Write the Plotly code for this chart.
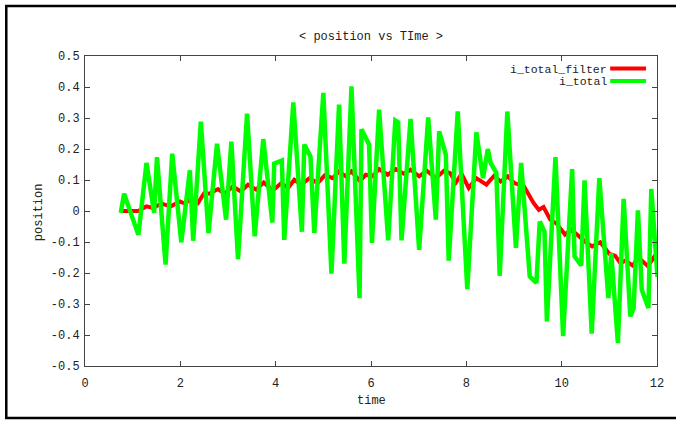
import plotly.graph_objects as go

# ---- data ----
t_raw = [0.75, 0.82, 1.12, 1.29, 1.45, 1.51, 1.69, 1.83, 2.02, 2.20, 2.27, 2.43, 2.59, 2.77, 2.96,
         3.07, 3.21, 3.40, 3.56, 3.74, 3.93, 3.97, 4.13, 4.18, 4.37, 4.55, 4.60, 4.73, 4.81, 5.00,
         5.17, 5.33, 5.44, 5.59, 5.76, 5.80, 5.96, 6.02, 6.17, 6.36, 6.51, 6.57, 6.64, 6.83, 7.01,
         7.20, 7.36, 7.43, 7.57, 7.63, 7.82, 8.02, 8.21, 8.35, 8.45, 8.51, 8.63, 8.70, 8.86, 9.04,
         9.15, 9.33, 9.47, 9.54, 9.64, 9.69, 9.87, 10.03, 10.22, 10.27, 10.41, 10.48, 10.63, 10.79,
         10.98, 11.04, 11.18, 11.30, 11.44, 11.51, 11.60, 11.68, 11.82, 11.88, 12.01]
i_total = [-0.006, 0.056, -0.077, 0.155, -0.006, 0.174, -0.173, 0.185, -0.101, 0.131, -0.096, 0.288,
           -0.071, 0.217, -0.028, 0.224, -0.155, 0.314, -0.082, 0.232, -0.037, 0.153, 0.163, -0.093,
           0.350, -0.067, 0.214, 0.176, -0.071, 0.381, -0.202, 0.343, -0.170, 0.402, -0.281, 0.264,
           0.214, -0.103, 0.327, -0.095, 0.292, 0.286, -0.095, 0.297, -0.125, 0.302, -0.028, 0.257,
           0.182, -0.160, 0.321, -0.252, 0.254, 0.106, 0.200, 0.155, 0.123, -0.209, 0.321, -0.119,
           0.155, -0.211, -0.232, -0.034, -0.066, -0.356, 0.174, -0.404, 0.135, -0.146, -0.176,
           0.099, -0.396, 0.106, -0.281, -0.136, -0.426, 0.039, -0.340, -0.313, 0.002, -0.254,
           -0.313, 0.071, -0.213]

t_filter = [0.75, 1.12, 1.29, 1.43, 1.60, 1.80, 1.99, 2.09, 2.23, 2.37, 2.50, 2.61, 2.79, 2.93, 3.10,
            3.27, 3.42, 3.59, 3.75, 3.94, 4.12, 4.26, 4.39, 4.53, 4.71, 4.88, 5.03, 5.20, 5.33, 5.47,
            5.59, 5.77, 5.89, 6.03, 6.17, 6.35, 6.52, 6.69, 6.83, 7.01, 7.17, 7.36, 7.53, 7.66, 7.78,
            7.90, 8.05, 8.21, 8.42, 8.58, 8.72, 8.87, 9.01, 9.21, 9.41, 9.52, 9.62, 9.76, 9.89, 10.07,
            10.20, 10.36, 10.51, 10.64, 10.81, 11.00, 11.12, 11.23, 11.34, 11.49, 11.61, 11.81, 11.93,
            12.04]
i_total_filter = [0.0, 0.0, 0.015, 0.010, 0.024, 0.015, 0.031, 0.024, 0.039, 0.026, 0.058, 0.056,
                  0.071, 0.056, 0.079, 0.063, 0.085, 0.069, 0.092, 0.066, 0.090, 0.074, 0.101, 0.085,
                  0.106, 0.090, 0.115, 0.106, 0.128, 0.112, 0.128, 0.096, 0.117, 0.112, 0.135, 0.117,
                  0.135, 0.120, 0.133, 0.112, 0.130, 0.106, 0.130, 0.122, 0.092, 0.120, 0.074, 0.106,
                  0.085, 0.113, 0.095, 0.112, 0.090, 0.079, 0.026, 0.004, 0.013, -0.028, -0.040,
                  -0.076, -0.060, -0.082, -0.101, -0.114, -0.101, -0.138, -0.144, -0.168, -0.160,
                  -0.176, -0.150, -0.178, -0.150, -0.125]

x_ticks = [0, 2, 4, 6, 8, 10, 12]
y_ticks = [0.5, 0.4, 0.3, 0.2, 0.1, 0, -0.1, -0.2, -0.3, -0.4, -0.5]
y_tick_text = ["0.5", "0.4", "0.3", "0.2", "0.1", "0", "-0.1", "-0.2", "-0.3", "-0.4", "-0.5"]

FONT = "Liberation Mono"
W, H = 676, 421
L, R, T, B = 85, 17, 56, 55
pw, ph = W - L - R, H - T - B

def px(xp):
    return (xp - L) / pw

def py(yp):
    return (H - B - yp) / ph

fig = go.Figure()
fig.add_trace(go.Scatter(x=t_filter, y=i_total_filter, mode="lines", name="i_total_filter",
                         line=dict(color="#ff0000", width=4), showlegend=False))
fig.add_trace(go.Scatter(x=t_raw, y=i_total, mode="lines", name="i_total",
                         line=dict(color="#00ff00", width=4.5), showlegend=False))

axis_common = dict(showgrid=False, zeroline=False, showline=True, linecolor="#444444", linewidth=1,
                   mirror="ticks", ticks="inside", ticklen=5, tickcolor="#444444", tickwidth=1,
                   tickfont=dict(family=FONT, size=12, color="#222222"))
fig.update_xaxes(range=[0, 12], tickvals=x_ticks, ticktext=[str(v) for v in x_ticks],
                 ticklabelstandoff=6, **axis_common)
fig.update_yaxes(range=[-0.5, 0.5], tickvals=y_ticks, ticktext=y_tick_text,
                 ticklabelstandoff=2, **axis_common)

annotations = [
    dict(text="&lt; position vs TIme &gt;", x=0.5, y=py(37), xref="paper", yref="paper",
         showarrow=False, xanchor="center", yanchor="middle",
         font=dict(family=FONT, size=12, color="#222222")),
    dict(text="time", x=0.5, y=py(401), xref="paper", yref="paper", showarrow=False,
         xanchor="center", yanchor="middle", font=dict(family=FONT, size=12, color="#222222")),
    dict(text="position", x=px(39), y=py(212), xref="paper", yref="paper", showarrow=False,
         textangle=-90, xanchor="center", yanchor="middle",
         font=dict(family=FONT, size=12, color="#222222")),
    dict(text="i_total_filter", x=px(611), y=py(69), xref="paper", yref="paper", showarrow=False,
         xanchor="right", yanchor="middle", font=dict(family=FONT, size=11.5, color="#222222")),
    dict(text="i_total", x=px(611), y=py(81), xref="paper", yref="paper", showarrow=False,
         xanchor="right", yanchor="middle", font=dict(family=FONT, size=11.5, color="#222222")),
]

shapes = [
    dict(type="line", xref="paper", yref="paper", x0=px(612), x1=px(648), y0=py(68.5), y1=py(68.5),
         line=dict(color="#ff0000", width=4)),
    dict(type="line", xref="paper", yref="paper", x0=px(612), x1=px(648), y0=py(81), y1=py(81),
         line=dict(color="#00ff00", width=4)),
    dict(type="rect", xref="paper", yref="paper", x0=px(6), x1=px(690), y0=py(418), y1=py(6),
         line=dict(color="#000000", width=2.5), layer="above"),
]

fig.update_layout(width=W, height=H, margin=dict(l=L, r=R, t=T, b=B),
                  paper_bgcolor="white", plot_bgcolor="white",
                  annotations=annotations, shapes=shapes, showlegend=False)

fig.write_html("out.html")
